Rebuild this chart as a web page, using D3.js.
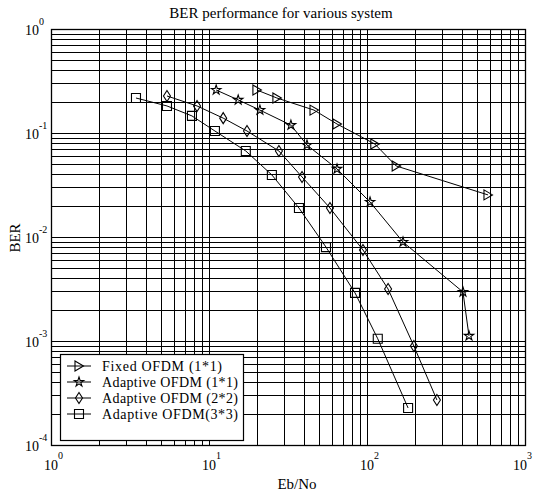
<!DOCTYPE html>
<html>
<head>
<meta charset="utf-8">
<title>BER performance</title>
<script src="https://d3js.org/d3.v7.min.js"></script>
<style>
  html, body { margin: 0; padding: 0; background: #fff; }
  svg { display: block; }
  text { font-family: "Liberation Serif", "Times New Roman", serif; fill: #000; }
  .grid line { stroke: #000; stroke-width: 1px; shape-rendering: crispEdges; }
  .series { fill: none; stroke: #000; stroke-width: 1px; }
  .marker { fill: none; stroke: #000; stroke-width: 1.1px; }
</style>
</head>
<body>
<svg width="533" height="493"></svg>
<script>
// data (Eb/No, BER)
const fixedX    = [20.1, 26.9, 46.2, 64.6, 112, 153, 583];
const fixedY    = [0.259, 0.217, 0.166, 0.122, 0.0784, 0.0482, 0.0254];
const adapt1X   = [11.1, 15.3, 21.0, 33.0, 41.7, 64.6, 104.5, 169, 405, 442];
const adapt1Y   = [0.259, 0.208, 0.166, 0.119, 0.0767, 0.0451, 0.0217, 0.00895, 0.00296, 0.00112];
const adapt2X   = [5.42, 8.40, 12.3, 17.4, 27.7, 38.8, 58.3, 94.3, 136, 198, 277];
const adapt2Y   = [0.227, 0.182, 0.139, 0.1045, 0.0671, 0.0378, 0.0190, 0.0075, 0.00316, 0.000895, 0.000271];
const adapt3X   = [3.45, 5.42, 7.80, 10.9, 17.1, 25.0, 37.1, 55.0, 84.0, 117, 182];
const adapt3Y   = [0.217, 0.182, 0.146, 0.1045, 0.0671, 0.0395, 0.0190, 0.0080, 0.0029, 0.00105, 0.000227];
const seriesNames = ['Fixed OFDM (1*1)', 'Adaptive OFDM (1*1)', 'Adaptive OFDM (2*2)', 'Adaptive OFDM(3*3)'];
const seriesMarkers = ['triangle', 'star', 'diamond', 'square'];

const svg = d3.select('svg');
const plotL = 51, plotR = 525, plotT = 29, plotB = 445;

let x = d3.scaleLog().domain([1, 1000]).range([plotL, plotR]);
let y = d3.scaleLog().domain([1e-4, 1]).range([plotB, plotT]);

// grid
let grid = svg.append('g').attr('class', 'grid');
grid.selectAll('.vx')
    .data(x.ticks())
    .join('line')
    .attr('x1', d => Math.round(x(d)) + 0.5).attr('x2', d => Math.round(x(d)) + 0.5)
    .attr('y1', plotT).attr('y2', plotB);
grid.selectAll('.hy')
    .data(y.ticks())
    .join('line')
    .attr('y1', d => Math.round(y(d)) + 0.5).attr('y2', d => Math.round(y(d)) + 0.5)
    .attr('x1', plotL).attr('x2', plotR);

svg.append('rect')
    .attr('x', plotL + 0.5).attr('y', plotT + 0.5)
    .attr('width', plotR - plotL).attr('height', plotB - plotT)
    .attr('fill', 'none').attr('stroke', '#000').attr('stroke-width', 1.3);

// tick labels
const isPow = d => Math.abs(Math.log10(d) - Math.round(Math.log10(d))) < 1e-9;
let xl = svg.selectAll('.xl')
    .data(x.ticks().filter(isPow))
    .join('text')
    .attr('x', d => Math.min(x(d) - 7, 513))
    .attr('y', 470)
    .attr('font-size', 14);
xl.append('tspan').text('10');
xl.append('tspan').attr('dy', -11).attr('font-size', 10).text(d => Math.round(Math.log10(d)));

let yl = svg.selectAll('.yl')
    .data(y.ticks().filter(isPow))
    .join('text')
    .attr('x', 25)
    .attr('y', d => y(d) + 6)
    .attr('font-size', 14);
yl.append('tspan').text('10');
yl.append('tspan').attr('dy', -10).attr('font-size', 10).text(d => Math.round(Math.log10(d)));

// titles
svg.append('text').attr('x', 281).attr('y', 18).attr('text-anchor', 'middle')
    .attr('font-size', 15).text('BER performance  for various system');
svg.append('text').attr('x', 297).attr('y', 489).attr('text-anchor', 'middle')
    .attr('font-size', 15).text('Eb/No');
svg.append('text').attr('transform', 'translate(20,238) rotate(-90)').attr('text-anchor', 'middle')
    .attr('font-size', 15).text('BER');

// markers
function markerPath(type) {
    if (type === 'square') return 'M-4.5,-4.5H4.5V4.5H-4.5Z';
    if (type === 'diamond') return 'M0,-5.5L3.5,0L0,5.5L-3.5,0Z';
    if (type === 'triangle') return 'M-4,-5L4.5,0L-4,5Z';
    return d3.symbol(d3.symbolStar, 28)();
}

const allX = [fixedX, adapt1X, adapt2X, adapt3X];
const allY = [fixedY, adapt1Y, adapt2Y, adapt3Y];
let series = allX.map((xs, i) => ({
    name: seriesNames[i],
    marker: seriesMarkers[i],
    points: xs.map((v, j) => [v, allY[i][j]])
}));

let line = d3.line().x(d => x(d[0])).y(d => y(d[1]));

series.forEach(s => {
    svg.append('path').datum(s.points).attr('class', 'series').attr('d', line);
    svg.selectAll(null)
        .data(s.points)
        .join('path')
        .attr('class', 'marker')
        .attr('transform', d => `translate(${x(d[0])},${y(d[1])})`)
        .attr('d', markerPath(s.marker))
        .attr('fill', s.marker === 'star' ? '#000' : 'none');
});

// legend
let legend = svg.append('g');
legend.append('rect')
    .attr('x', 60.5).attr('y', 354.5).attr('width', 183).attr('height', 86)
    .attr('fill', '#fff').attr('stroke', '#000').attr('stroke-width', 1.2);
series.forEach((s, i) => {
    let ly = 366 + i * 16;
    legend.append('line').attr('x1', 67).attr('x2', 91).attr('y1', ly).attr('y2', ly)
        .attr('stroke', '#000');
    legend.append('path').attr('class', 'marker')
        .attr('transform', `translate(79,${ly})`)
        .attr('d', markerPath(s.marker))
        .attr('fill', s.marker === 'star' ? '#000' : 'none');
    legend.append('text').attr('x', 102).attr('y', ly + 5)
        .attr('font-size', 14).attr('textLength', s.name.length > 17 ? 136 : 120)
        .text(s.name);
});
</script>
</body>
</html>
